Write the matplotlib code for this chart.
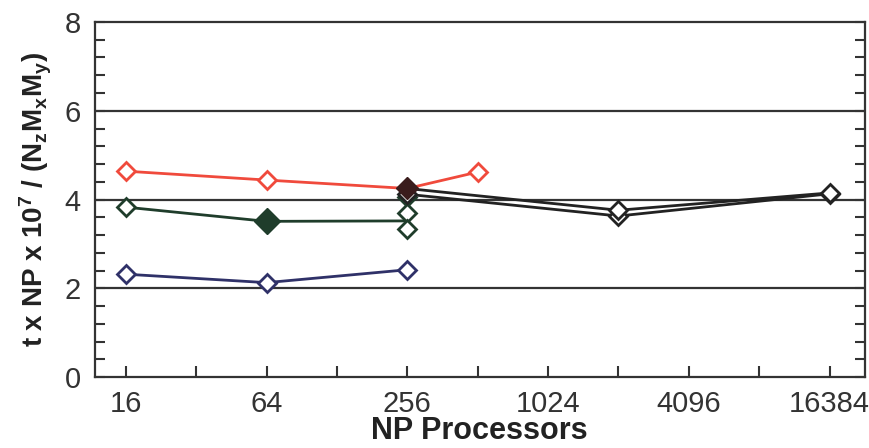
import matplotlib
matplotlib.use("Agg")
import matplotlib.pyplot as plt
from matplotlib.ticker import FixedLocator, MultipleLocator, NullFormatter

plt.rcParams['font.family'] = ['Liberation Sans', 'DejaVu Sans']
plt.rcParams['mathtext.fontset'] = 'custom'
plt.rcParams['mathtext.rm'] = 'Liberation Sans'
plt.rcParams['mathtext.bf'] = 'Liberation Sans:bold'
plt.rcParams['mathtext.it'] = 'Liberation Sans:italic'

# data
red_np = [16, 64, 256, 512]
red_t = [4.64, 4.44, 4.25, 4.62]

green_np = [16, 64, 256]
green_t = [3.83, 3.51, 3.52]
green_extra_np = [256, 256, 256]
green_extra_t = [4.05, 3.70, 3.33]

blue_np = [16, 64, 256]
blue_t = [2.32, 2.13, 2.42]

black_a_np = [256, 2048, 16384]
black_a_t = [4.25, 3.76, 4.15]
black_b_np = [256, 2048, 16384]
black_b_t = [4.12, 3.63, 4.13]

major_np = [16, 64, 256, 1024, 4096, 16384]
minor_np = [32, 128, 512, 2048, 8192]

c_red = '#f04a3c'
c_green = '#1f3d2b'
c_blue = '#2f3168'
c_black = '#222222'
c_fill = '#3a1c1c'

fig = plt.figure(figsize=(8.7, 4.48), dpi=100)
ax = fig.add_axes([0.109, 0.158, 0.885, 0.793])

for yv in [2, 4, 6]:
    ax.axhline(yv, color='#333333', lw=1.6, zorder=1)

ax.plot(red_np, red_t, color=c_red, lw=2, marker='D', ms=9, mfc='white', mec=c_red, mew=2, zorder=3)
ax.plot(blue_np, blue_t, color=c_blue, lw=2, marker='D', ms=9, mfc='white', mec=c_blue, mew=2, zorder=3)
ax.plot(green_np[:2], green_t[:2], color=c_green, lw=2, marker='D', ms=9, mfc='white', mec=c_green, mew=2, zorder=3)
ax.plot(green_np[1:], green_t[1:], color=c_green, lw=2, zorder=3)
ax.plot([green_np[1]], [green_t[1]], marker='D', ms=13, color=c_green, zorder=4)
ax.plot(green_extra_np, green_extra_t, color=c_green, lw=2, marker='D', ms=9, mfc='white', mec=c_green, mew=2, zorder=3)
ax.plot(black_b_np, black_b_t, color=c_black, lw=2, marker='D', ms=9, mfc='white', mec=c_black, mew=2, zorder=4)
ax.plot(black_a_np, black_a_t, color=c_black, lw=2, marker='D', ms=9, mfc='white', mec=c_black, mew=2, zorder=4)
ax.plot([black_a_np[0]], [black_a_t[0]], marker='D', ms=11, color=c_fill, zorder=5)

ax.set_xscale('log', base=2)
ax.set_xlim(11.8, 23170)
ax.set_ylim(0, 8)
ax.xaxis.set_major_locator(FixedLocator(major_np))
ax.xaxis.set_minor_locator(FixedLocator(minor_np))
ax.xaxis.set_minor_formatter(NullFormatter())
ax.set_xticklabels([str(v) for v in major_np])
ax.yaxis.set_major_locator(MultipleLocator(2))
ax.yaxis.set_minor_locator(MultipleLocator(0.4))

ax.tick_params(axis='both', which='both', direction='in', color='#333333', width=1.5)
ax.tick_params(axis='x', which='both', length=8, top=False, labelsize=21, pad=9, labelcolor='#333333')
ax.tick_params(axis='y', which='both', length=7, right=True, labelsize=21, pad=10, labelcolor='#333333')
for s in ax.spines.values():
    s.set_color('#333333')
    s.set_linewidth(1.6)

fig.text(0.551, 0.004, 'NP Processors', fontsize=22, fontweight='bold',
         ha='center', va='bottom', color='#222222')
ax.set_ylabel(r'$\mathbf{t\ x\ NP\ x\ 10^7\ /\ (N_zM_xM_y)}$', fontsize=20, labelpad=8, color='#222222')

fig.savefig('out.png', dpi=100)
